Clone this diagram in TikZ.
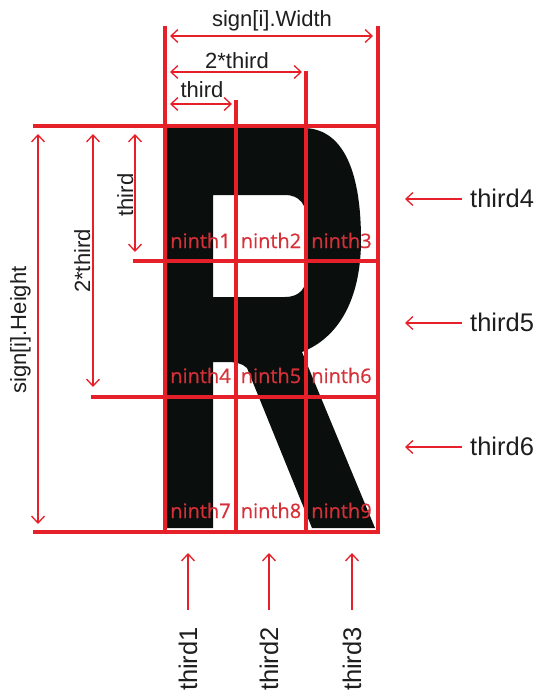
\documentclass[tikz,border=0pt]{standalone}
\usepackage{fontspec}
\setmainfont{Liberation Sans}
\newfontfamily\ninthfont[FakeBold=0.6]{Open Sans}
\usetikzlibrary{arrows.meta}
\definecolor{gridred}{RGB}{230,32,40}
\definecolor{labred}{RGB}{214,48,56}
\definecolor{glyph}{RGB}{10,15,13}
\definecolor{txt}{RGB}{30,30,30}
\begin{document}
\begin{tikzpicture}[x=1pt,y=-1pt,
  gridline/.style={gridred,line width=3.2pt,line cap=rect},
  dimline/.style={gridred,line width=1.3pt,{Straight Barb[length=7pt,width=13pt]}-{Straight Barb[length=7pt,width=13pt]}},
  ptr/.style={gridred,line width=1.3pt,-{Straight Barb[length=7pt,width=13pt]}},
  dimlab/.style={font=\fontsize{22}{24}\selectfont,text=txt,inner sep=0pt,anchor=base},
  biglab/.style={font=\fontsize{25.5}{28}\selectfont,text=txt,inner sep=0pt},
  ninth/.style={font=\ninthfont\fontsize{20}{22}\selectfont,text=labred,inner sep=0pt,anchor=base}]
\fill[white] (0,0) rectangle (539,693);
\useasboundingbox (0,0) rectangle (539,693);
% letter R
\fill[glyph,even odd rule] (167,128) -- (303,128) .. controls (340,128) and (361,165) .. (361,240)
  .. controls (361,300) and (338,338) .. (302,352) -- (375,528) -- (312,528) -- (247,368)
  .. controls (242,363) and (235,362) .. (226,362) -- (213,362) -- (213,528) -- (167,528) -- cycle
  (213,195) -- (285,195) .. controls (300,195) and (307,205) .. (307,222) -- (307,272)
  .. controls (307,288) and (300,297) .. (285,297) -- (213,297) -- cycle;
% grid coordinates
\coordinate (v1t) at (165,28);  \coordinate (v1b) at (165,532);
\coordinate (v2t) at (236,102); \coordinate (v2b) at (236,532);
\coordinate (v3t) at (306,73);  \coordinate (v3b) at (306,532);
\coordinate (v4t) at (378,28);  \coordinate (v4b) at (378,532);
\coordinate (h1l) at (35,126);  \coordinate (h1r) at (378,126);
\coordinate (h2l) at (135,261); \coordinate (h2r) at (378,261);
\coordinate (h3l) at (93,397);  \coordinate (h3r) at (378,397);
\coordinate (h4l) at (35,532);  \coordinate (h4r) at (378,532);
\draw[gridline] (v1t) -- (v1b);
\draw[gridline] (v2t) -- (v2b);
\draw[gridline] (v3t) -- (v3b);
\draw[gridline] (v4t) -- (v4b);
\draw[gridline] (h1l) -- (h1r);
\draw[gridline] (h2l) -- (h2r);
\draw[gridline] (h3l) -- (h3r);
\draw[gridline] (h4l) -- (h4r);
% ninth labels
\node[ninth] (n1) at (200.5,248) {ninth1};
\node[ninth] (n2) at (271,248) {ninth2};
\node[ninth] (n3) at (341.5,248) {ninth3};
\node[ninth] (n4) at (200.5,383) {ninth4};
\node[ninth] (n5) at (271,383) {ninth5};
\node[ninth] (n6) at (341.5,383) {ninth6};
\node[ninth] (n7) at (200.5,518) {ninth7};
\node[ninth] (n8) at (271,518) {ninth8};
\node[ninth] (n9) at (341.5,518) {ninth9};
% top dimensions
\coordinate (wa) at (165,36); \coordinate (wb) at (378,36);
\draw[dimline,shorten <=5pt,shorten >=5pt] (wa) -- (wb);
\coordinate (ta) at (165,72); \coordinate (tb) at (306,72);
\draw[dimline,shorten <=5pt,shorten >=4pt] (ta) -- (tb);
\coordinate (sa) at (165,104); \coordinate (sb) at (236,104);
\draw[dimline,shorten <=5pt,shorten >=4pt] (sa) -- (sb);
\node[dimlab] (lw) at (272,27) {sign[i].Width};
\node[dimlab] (l2t) at (237,68) {2*third};
\node[dimlab] (lt) at (202,97) {third};
% left dimensions
\coordinate (ha) at (38,126); \coordinate (hb) at (38,532);
\draw[dimline,shorten <=8pt,shorten >=8pt] (ha) -- (hb);
\coordinate (va) at (93,126); \coordinate (vb) at (93,397);
\draw[dimline,shorten <=8pt,shorten >=10pt] (va) -- (vb);
\coordinate (ua) at (135,126); \coordinate (ub) at (135,261);
\draw[dimline,shorten <=8pt,shorten >=9pt] (ua) -- (ub);
\node[dimlab,rotate=90] (lh) at (26,330) {sign[i].Height};
\node[dimlab,rotate=90] (l2v) at (90,261) {2*third};
\node[dimlab,rotate=90] (ltv) at (133,195) {third};
% right labels
\node[biglab,anchor=west] (t4) at (470,198) {third4};
\node[biglab,anchor=west] (t5) at (470,322) {third5};
\node[biglab,anchor=west] (t6) at (470,446) {third6};
\coordinate (a4) at (405,199);
\coordinate (a5) at (405,323);
\coordinate (a6) at (405,447);
\draw[ptr] ([xshift=-8pt,yshift=-1pt]t4.west) -- (a4);
\draw[ptr] ([xshift=-8pt,yshift=-1pt]t5.west) -- (a5);
\draw[ptr] ([xshift=-8pt,yshift=-1pt]t6.west) -- (a6);
% bottom labels
\node[biglab,rotate=90,anchor=east] (t1) at (188,627) {third1};
\node[biglab,rotate=90,anchor=east] (t2) at (269,627) {third2};
\node[biglab,rotate=90,anchor=east] (t3) at (352,627) {third3};
\coordinate (b1) at (188,553);
\coordinate (b2) at (269,553);
\coordinate (b3) at (352,553);
\draw[ptr] ([yshift=17pt]t1.east) -- (b1);
\draw[ptr] ([yshift=17pt]t2.east) -- (b2);
\draw[ptr] ([yshift=17pt]t3.east) -- (b3);
\end{tikzpicture}
\end{document}
